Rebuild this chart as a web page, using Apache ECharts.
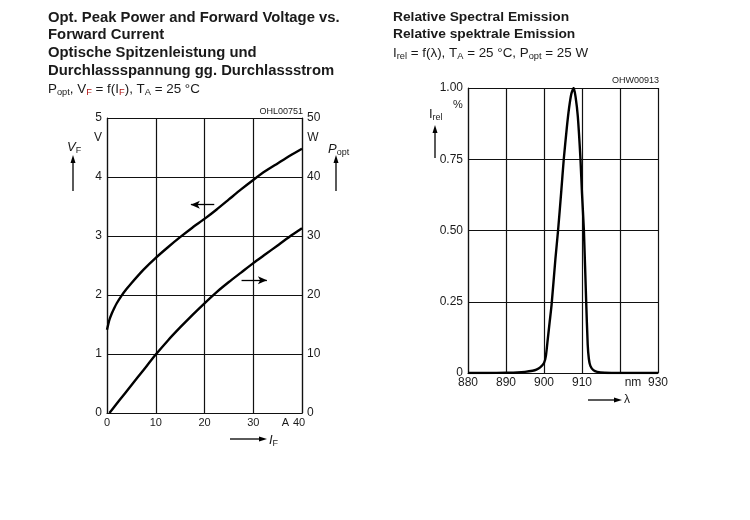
<!DOCTYPE html>
<html lang="de">
<head>
    <meta charset="utf-8">
    <title>Opt. Peak Power / Relative Spectral Emission</title>
    <script src="https://cdn.jsdelivr.net/npm/echarts@6/dist/echarts.min.js"></script>
    <style>
        body { margin: 0; background: #fff; }
    </style>
</head>
<body>
    <div id="main" style="width:750px;height:520px;"></div>

    <script type="text/javascript">
    // --- Daten: linkes Diagramm (V_F und P_opt über I_F) ---
    var currentA = [0, 0.5, 1, 1.5, 2, 3, 4, 5, 7.5, 10, 12.5, 15, 17.5, 20, 22.5, 25, 27.5, 30, 32.5, 35, 37.5, 40];
    var forwardVoltage = [1.41, 1.58, 1.69, 1.78, 1.86, 1.99, 2.10, 2.20, 2.43, 2.63, 2.81, 2.98, 3.14, 3.29, 3.45, 3.62, 3.79, 3.95, 4.10, 4.23, 4.36, 4.48];
    var powerCurrentA = [0.5, 2.5, 5, 7.5, 10, 12.5, 15, 17.5, 20, 22.5, 25, 27.5, 30, 32.5, 35, 37.5, 40];
    var peakPowerW = [0, 2.1, 4.7, 7.3, 9.9, 12.3, 14.5, 16.6, 18.6, 20.5, 22.2, 23.8, 25.4, 26.9, 28.4, 29.9, 31.3];

    // --- Daten: rechtes Diagramm (relative spektrale Emission) ---
    var wavelengthNm = [880, 885, 890, 893, 895, 897, 898, 899, 900, 900.5, 901, 901.5, 902, 903, 903.7, 904.5, 905.2, 906, 906.6, 907.2, 907.8, 908.3, 908.9, 909.6, 910, 910.5, 911.1, 911.5, 911.8, 912.2, 913, 914, 916, 920, 925, 930];
    var relIntensity = [0, 0, 0.001, 0.002, 0.004, 0.008, 0.012, 0.02, 0.035, 0.06, 0.12, 0.18, 0.24, 0.40, 0.50, 0.63, 0.75, 0.86, 0.93, 0.98, 1.0, 0.97, 0.9, 0.75, 0.63, 0.5, 0.25, 0.1, 0.05, 0.025, 0.01, 0.004, 0.001, 0, 0, 0];

    // Tick-Beschriftungen
    var leftXTicks = [0, 10, 20, 30, 40];
    var rightXTicks = [880, 890, 900, 910, 920, 930];

    function pairs(xs, ys) {
        return xs.map(function (x, i) { return [x, ys[i]]; });
    }

    var FONT = '"Liberation Sans", Arial, sans-serif';
    var INK = '#1a1a1a';
    var gridLine = { color: '#111', width: 1.2 };

    var sub = { fontSize: 9, lineHeight: 8, verticalAlign: 'bottom', fontFamily: FONT, fill: INK };
    var subRed = { fontSize: 9, lineHeight: 8, verticalAlign: 'bottom', fontFamily: FONT, fill: '#b01818' };
    var norm = { fontSize: 13, lineHeight: 16, fontFamily: FONT, fill: INK };
    var ital = { fontSize: 13, lineHeight: 16, fontStyle: 'italic', fontFamily: FONT, fill: INK };

    function boldLine(x, y, txt, size, sx) {
        return { type: 'text', x: x, y: y, scaleX: sx, silent: true,
            style: { text: txt, fontFamily: FONT, fontSize: size, fontWeight: 'bold', fill: INK,
                lineHeight: 16, verticalAlign: 'top' } };
    }
    function richLine(x, y, txt, sx) {
        return { type: 'text', x: x, y: y, scaleX: sx || 1, silent: true,
            style: { text: txt, fontFamily: FONT, fontSize: 13, fill: INK, verticalAlign: 'top',
                rich: { n: norm, s: sub, r: subRed, i: ital } } };
    }
    function plain(x, y, txt, size, align) {
        return { type: 'text', x: x, y: y, silent: true,
            style: { text: txt, fontFamily: FONT, fontSize: size, fill: INK, align: align || 'left', verticalAlign: 'middle' } };
    }
    function arrowUp(x, yTop, yBottom) {
        return [
            { type: 'line', silent: true, shape: { x1: x, y1: yTop + 6, x2: x, y2: yBottom }, style: { stroke: '#000', lineWidth: 1.3 } },
            { type: 'polygon', silent: true, shape: { points: [[x, yTop], [x - 2.5, yTop + 8], [x + 2.5, yTop + 8]] }, style: { fill: '#000' } }
        ];
    }
    function arrowRight(xLeft, xRight, y) {
        return [
            { type: 'line', silent: true, shape: { x1: xLeft, y1: y, x2: xRight - 6, y2: y }, style: { stroke: '#000', lineWidth: 1.3 } },
            { type: 'polygon', silent: true, shape: { points: [[xRight, y], [xRight - 8, y - 2.5], [xRight - 8, y + 2.5]] }, style: { fill: '#000' } }
        ];
    }

    var myChart = echarts.init(document.getElementById('main'));

    var graphics = [
        // linke Überschrift
        boldLine(48, 10, 'Opt. Peak Power and Forward Voltage vs.', 14, 1.06),
        boldLine(48, 27, 'Forward Current', 14, 1.06),
        boldLine(48, 45, 'Optische Spitzenleistung und', 14, 1.06),
        boldLine(48, 63.5, 'Durchlassspannung gg. Durchlassstrom', 14, 1.06),
        richLine(48, 81, '{n|P}{s|opt}{n|, V}{r|F}{n| = f(I}{r|F}{n|), T}{s|A}{n| = 25 °C}', 1.03),
        // rechte Überschrift
        boldLine(393, 9, 'Relative Spectral Emission', 13, 1.06),
        boldLine(393, 26, 'Relative spektrale Emission', 13, 1.06),
        richLine(393, 45, '{n|I}{s|rel}{n| = f(λ), T}{s|A}{n| = 25 °C, P}{s|opt}{n| = 25 W}', 1.03),

        // linkes Diagramm: Achsen-Beschriftungen
        plain(303, 112, 'OHL00751', 9, 'right'),
        plain(98, 138, 'V', 12, 'center'),
        plain(313, 138, 'W', 12, 'center'),
        richLine(67, 139, '{i|V}{s|F}'),
        richLine(328, 141, '{i|P}{s|opt}'),
        plain(285.5, 423, 'A', 11, 'center'),
        richLine(269, 432, '{i|I}{s|F}'),

        // rechtes Diagramm
        plain(659, 81, 'OHW00913', 9, 'right'),
        plain(458, 105, '%', 11, 'center'),
        richLine(429, 106, '{n|I}{s|rel}'),
        plain(633, 383, 'nm', 12, 'center'),
        plain(624, 400, 'λ', 12, 'left')
    ];
    graphics = graphics
        .concat(arrowUp(73, 155, 191))
        .concat(arrowUp(336, 155, 191))
        .concat(arrowRight(230, 267, 439))
        .concat(arrowUp(435, 125, 158))
        .concat(arrowRight(588, 622, 400));

    var axisLabelBase = { color: INK, fontFamily: FONT, fontSize: 11 };

    myChart.setOption({
        animation: false,
        backgroundColor: '#fff',
        graphic: graphics,
        grid: [
            { left: 107, top: 118, width: 195, height: 295 },
            { left: 468, top: 88, width: 190, height: 285 }
        ],
        xAxis: [
            {
                gridIndex: 0, type: 'value', min: 0, max: 40, interval: 10,
                axisLine: { lineStyle: gridLine }, axisTick: { show: false },
                splitLine: { lineStyle: gridLine },
                axisLabel: Object.assign({}, axisLabelBase, {
                    margin: 4,
                    formatter: function (v) {
                        if (leftXTicks.indexOf(v) < 0) return '';
                        return v === 40 ? '{e|40}' : String(v);
                    },
                    rich: { e: { fontSize: 11, fontFamily: FONT, color: INK, padding: [0, 6, 0, 0] } }
                })
            },
            {
                gridIndex: 1, type: 'value', min: 880, max: 930, interval: 10,
                axisLine: { lineStyle: gridLine }, axisTick: { show: false },
                splitLine: { lineStyle: gridLine },
                axisLabel: Object.assign({}, axisLabelBase, {
                    fontSize: 12, margin: 4,
                    formatter: function (v) { return (rightXTicks.indexOf(v) < 0 || v === 920) ? '' : String(v); }
                })
            }
        ],
        yAxis: [
            {
                gridIndex: 0, type: 'value', min: 0, max: 5, interval: 1, position: 'left',
                axisLine: { show: true, lineStyle: gridLine }, axisTick: { show: false },
                splitLine: { lineStyle: gridLine },
                axisLabel: Object.assign({}, axisLabelBase, { fontSize: 12, margin: 5 })
            },
            {
                gridIndex: 0, type: 'value', min: 0, max: 50, interval: 10, position: 'right',
                axisLine: { show: true, lineStyle: gridLine }, axisTick: { show: false },
                splitLine: { show: false },
                axisLabel: Object.assign({}, axisLabelBase, { fontSize: 12, margin: 5 })
            },
            {
                gridIndex: 1, type: 'value', min: 0, max: 1, interval: 0.25,
                axisLine: { show: true, lineStyle: gridLine }, axisTick: { show: false },
                splitLine: { lineStyle: gridLine },
                axisLabel: Object.assign({}, axisLabelBase, {
                    fontSize: 12, margin: 5,
                    formatter: function (v) { return v === 0 ? '0' : v.toFixed(2); }
                })
            }
        ],
        series: [
            {
                name: 'V_F', type: 'line', xAxisIndex: 0, yAxisIndex: 0,
                data: pairs(currentA, forwardVoltage),
                showSymbol: false, smooth: 0.2, silent: true,
                lineStyle: { color: '#000', width: 2.4 },
                markLine: {
                    silent: true, symbol: ['none', 'arrow'], symbolSize: [6, 9],
                    label: { show: false },
                    lineStyle: { color: '#000', width: 1.3, type: 'solid' },
                    data: [[{ coord: [22, 3.53] }, { coord: [17.2, 3.53] }]]
                }
            },
            {
                name: 'P_opt', type: 'line', xAxisIndex: 0, yAxisIndex: 1,
                data: pairs(powerCurrentA, peakPowerW),
                showSymbol: false, smooth: 0.2, silent: true,
                lineStyle: { color: '#000', width: 2.4 },
                markLine: {
                    silent: true, symbol: ['none', 'arrow'], symbolSize: [6, 9],
                    label: { show: false },
                    lineStyle: { color: '#000', width: 1.3, type: 'solid' },
                    data: [[{ coord: [27.6, 22.5] }, { coord: [32.8, 22.5] }]]
                }
            },
            {
                name: 'I_rel', type: 'line', xAxisIndex: 1, yAxisIndex: 2,
                data: pairs(wavelengthNm, relIntensity),
                showSymbol: false, smooth: 0.2, silent: true,
                lineStyle: { color: '#000', width: 2.4 }
            }
        ]
    });
    </script>
</body>
</html>
